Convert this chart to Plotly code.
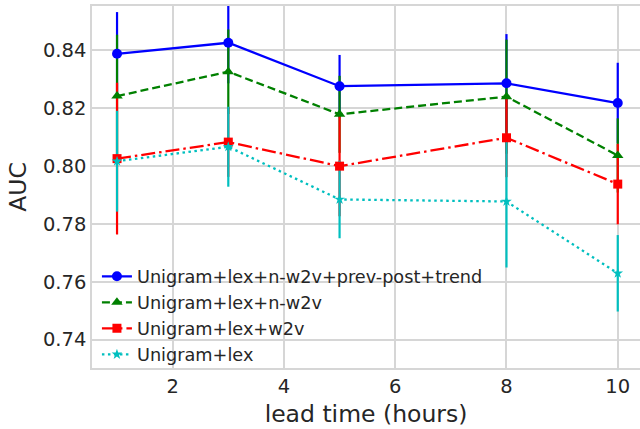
import plotly.graph_objects as go

lead_time = [1, 3, 5, 8, 10]

series_names = [
    "Unigram+lex+n-w2v+prev-post+trend",
    "Unigram+lex+n-w2v",
    "Unigram+lex+w2v",
    "Unigram+lex",
]
auc_full = [0.8387, 0.8425, 0.8275, 0.8285, 0.8217]
auc_nw2v = [0.8241, 0.8325, 0.8178, 0.8239, 0.8036]
auc_w2v = [0.8025, 0.8082, 0.7999, 0.8097, 0.7937]
auc_lex = [0.8016, 0.8066, 0.7884, 0.7877, 0.7629]

err_full = [0.0144, 0.0140, 0.0108, 0.0170, 0.0139]
err_nw2v = [0.0212, 0.0146, 0.0133, 0.0197, 0.0128]
err_w2v = [0.0262, 0.0120, 0.0173, 0.0136, 0.0139]
err_lex = [0.0174, 0.0138, 0.0134, 0.0228, 0.0132]

y_ticks = [0.74, 0.76, 0.78, 0.80, 0.82, 0.84]
x_ticks = [2, 4, 6, 8, 10]

values = [auc_full, auc_nw2v, auc_w2v, auc_lex]
errors = [err_full, err_nw2v, err_w2v, err_lex]
colors = ["#0000ff", "#008000", "#ff0000", "#00bfbf"]
symbols = ["circle", "triangle-up", "square", "star"]
msizes = [10, 10, 9, 8]
dashes = ["solid", "8px,4px", "14px,4px,2.5px,4px", "2.5px,3.5px"]

fig = go.Figure()

# error bars first (later series drawn over earlier ones)
for vals, errs, col in zip(values, errors, colors):
    fig.add_trace(go.Scatter(
        x=lead_time, y=vals, mode="markers",
        marker=dict(size=1, opacity=0, color=col),
        error_y=dict(type="data", array=errs, visible=True,
                     color=col, thickness=2.2, width=0),
        showlegend=False, hoverinfo="skip",
    ))

for name, vals, col, sym, ms, dash in zip(series_names, values, colors,
                                          symbols, msizes, dashes):
    fig.add_trace(go.Scatter(
        x=lead_time, y=vals, mode="lines+markers", name=name,
        line=dict(color=col, width=2.3, dash=dash),
        marker=dict(color=col, symbol=sym, size=ms, line=dict(width=0)),
    ))

font_color = "#262626"
grid_color = "#d6d6d6"

fig.update_layout(
    width=640, height=429,
    margin=dict(l=92, r=0, t=6, b=61),
    paper_bgcolor="white", plot_bgcolor="white",
    font=dict(family="DejaVu Sans", color=font_color),
    showlegend=True,
    legend=dict(
        x=0.009, y=0.303, xanchor="left", yanchor="top",
        bgcolor="rgba(0,0,0,0)", borderwidth=0,
        font=dict(size=17.7, color=font_color),
        tracegroupgap=0,
    ),
)
fig.update_xaxes(
    range=[0.55, 10.40], tickvals=x_ticks, ticktext=[str(t) for t in x_ticks],
    showgrid=True, gridcolor=grid_color, gridwidth=1.5,
    showline=True, linecolor=grid_color, linewidth=1.5, mirror=True,
    zeroline=False, ticks="", tickfont=dict(size=19.5, color=font_color),
    automargin=False,
    title=dict(text="lead time (hours)", font=dict(size=23.5, color=font_color),
               standoff=8),
)
fig.update_yaxes(
    range=[0.7302, 0.8552], tickvals=y_ticks,
    ticktext=["%.2f" % t for t in y_ticks],
    showgrid=True, gridcolor=grid_color, gridwidth=1.5,
    showline=True, linecolor=grid_color, linewidth=1.5,
    zeroline=False, ticks="", tickfont=dict(size=19.5, color=font_color),
    automargin=False,
    title=dict(text="AUC", font=dict(size=23.5, color=font_color), standoff=10),
)

fig.write_html(
    "out.html",
    config={"displayModeBar": False},
    post_script="document.body.style.margin='0';document.body.style.padding='0';",
)
